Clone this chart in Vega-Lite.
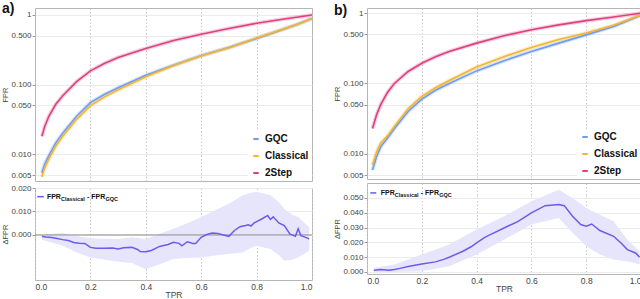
{
"$schema":"https://vega.github.io/schema/vega-lite/v6.json",
"padding":{"left":1,"top":1,"right":0,"bottom":0},
"config":{"font":"Liberation Sans","view":{"stroke":"#b5b5b5","strokeWidth":1},
"axis":{"domain":false,"labelColor":"#444","labelFontSize":8,"titleFontSize":7.5,"titleFontWeight":"normal","titleColor":"#444","gridColor":"#ebebeb","tickColor":"#999","tickSize":3,"labelPadding":1,"titlePadding":1,"labelOverlap":false},
"axisX":{"gridDash":[1.5,2],"gridColor":"#c8c8c8","labelFontSize":8.5,"titleFontSize":8.5},
"legend":{"labelFont":"Liberation Sans","labelFontWeight":"bold","labelFontSize":10,"labelColor":"#111","symbolType":"stroke","symbolSize":30,"symbolStrokeWidth":2,"symbolOpacity":1,"fillColor":"white","padding":3,"rowPadding":7,"offset":0,"title":null}},
"datasets":{
"roc":[
{"p":"a","m":"GQC","tpr":0.025,"fpr":0.0054},{"p":"a","m":"GQC","tpr":0.035,"fpr":0.0072},{"p":"a","m":"GQC","tpr":0.05,"fpr":0.0095},{"p":"a","m":"GQC","tpr":0.075,"fpr":0.0145},{"p":"a","m":"GQC","tpr":0.1,"fpr":0.02},{"p":"a","m":"GQC","tpr":0.15,"fpr":0.035},{"p":"a","m":"GQC","tpr":0.2,"fpr":0.055},{"p":"a","m":"GQC","tpr":0.25,"fpr":0.072},{"p":"a","m":"GQC","tpr":0.3,"fpr":0.09},{"p":"a","m":"GQC","tpr":0.4,"fpr":0.136},{"p":"a","m":"GQC","tpr":0.5,"fpr":0.19},{"p":"a","m":"GQC","tpr":0.6,"fpr":0.26},{"p":"a","m":"GQC","tpr":0.7,"fpr":0.34},{"p":"a","m":"GQC","tpr":0.8,"fpr":0.46},{"p":"a","m":"GQC","tpr":0.9,"fpr":0.63},{"p":"a","m":"GQC","tpr":0.95,"fpr":0.74},{"p":"a","m":"GQC","tpr":1.0,"fpr":0.89},
{"p":"a","m":"Classical","tpr":0.025,"fpr":0.0047},{"p":"a","m":"Classical","tpr":0.035,"fpr":0.0064},{"p":"a","m":"Classical","tpr":0.05,"fpr":0.0085},{"p":"a","m":"Classical","tpr":0.075,"fpr":0.013},{"p":"a","m":"Classical","tpr":0.1,"fpr":0.018},{"p":"a","m":"Classical","tpr":0.15,"fpr":0.0316},{"p":"a","m":"Classical","tpr":0.2,"fpr":0.0497},{"p":"a","m":"Classical","tpr":0.25,"fpr":0.066},{"p":"a","m":"Classical","tpr":0.3,"fpr":0.084},{"p":"a","m":"Classical","tpr":0.4,"fpr":0.129},{"p":"a","m":"Classical","tpr":0.5,"fpr":0.187},{"p":"a","m":"Classical","tpr":0.6,"fpr":0.259},{"p":"a","m":"Classical","tpr":0.7,"fpr":0.339},{"p":"a","m":"Classical","tpr":0.8,"fpr":0.466},{"p":"a","m":"Classical","tpr":0.9,"fpr":0.634},{"p":"a","m":"Classical","tpr":0.95,"fpr":0.74},{"p":"a","m":"Classical","tpr":1.0,"fpr":0.89},
{"p":"a","m":"2Step","tpr":0.025,"fpr":0.018},{"p":"a","m":"2Step","tpr":0.035,"fpr":0.025},{"p":"a","m":"2Step","tpr":0.05,"fpr":0.035},{"p":"a","m":"2Step","tpr":0.075,"fpr":0.052},{"p":"a","m":"2Step","tpr":0.1,"fpr":0.069},{"p":"a","m":"2Step","tpr":0.15,"fpr":0.11},{"p":"a","m":"2Step","tpr":0.2,"fpr":0.157},{"p":"a","m":"2Step","tpr":0.25,"fpr":0.2},{"p":"a","m":"2Step","tpr":0.3,"fpr":0.245},{"p":"a","m":"2Step","tpr":0.4,"fpr":0.33},{"p":"a","m":"2Step","tpr":0.5,"fpr":0.43},{"p":"a","m":"2Step","tpr":0.6,"fpr":0.53},{"p":"a","m":"2Step","tpr":0.7,"fpr":0.64},{"p":"a","m":"2Step","tpr":0.8,"fpr":0.76},{"p":"a","m":"2Step","tpr":0.9,"fpr":0.875},{"p":"a","m":"2Step","tpr":1.0,"fpr":1.0},
{"p":"b","m":"GQC","tpr":0.02,"fpr":0.0059},{"p":"b","m":"GQC","tpr":0.035,"fpr":0.0092},{"p":"b","m":"GQC","tpr":0.05,"fpr":0.0126},{"p":"b","m":"GQC","tpr":0.075,"fpr":0.0168},{"p":"b","m":"GQC","tpr":0.1,"fpr":0.023},{"p":"b","m":"GQC","tpr":0.15,"fpr":0.04},{"p":"b","m":"GQC","tpr":0.2,"fpr":0.06},{"p":"b","m":"GQC","tpr":0.25,"fpr":0.08},{"p":"b","m":"GQC","tpr":0.3,"fpr":0.1},{"p":"b","m":"GQC","tpr":0.4,"fpr":0.151},{"p":"b","m":"GQC","tpr":0.5,"fpr":0.21},{"p":"b","m":"GQC","tpr":0.6,"fpr":0.285},{"p":"b","m":"GQC","tpr":0.7,"fpr":0.374},{"p":"b","m":"GQC","tpr":0.8,"fpr":0.49},{"p":"b","m":"GQC","tpr":0.9,"fpr":0.645},{"p":"b","m":"GQC","tpr":1.0,"fpr":0.93},
{"p":"b","m":"Classical","tpr":0.02,"fpr":0.0069},{"p":"b","m":"Classical","tpr":0.035,"fpr":0.0107},{"p":"b","m":"Classical","tpr":0.05,"fpr":0.0142},{"p":"b","m":"Classical","tpr":0.075,"fpr":0.018},{"p":"b","m":"Classical","tpr":0.1,"fpr":0.0246},{"p":"b","m":"Classical","tpr":0.15,"fpr":0.0436},{"p":"b","m":"Classical","tpr":0.2,"fpr":0.0654},{"p":"b","m":"Classical","tpr":0.25,"fpr":0.087},{"p":"b","m":"Classical","tpr":0.3,"fpr":0.11},{"p":"b","m":"Classical","tpr":0.4,"fpr":0.171},{"p":"b","m":"Classical","tpr":0.5,"fpr":0.24},{"p":"b","m":"Classical","tpr":0.6,"fpr":0.325},{"p":"b","m":"Classical","tpr":0.7,"fpr":0.42},{"p":"b","m":"Classical","tpr":0.8,"fpr":0.521},{"p":"b","m":"Classical","tpr":0.9,"fpr":0.669},{"p":"b","m":"Classical","tpr":1.0,"fpr":0.94},
{"p":"b","m":"2Step","tpr":0.02,"fpr":0.023},{"p":"b","m":"2Step","tpr":0.035,"fpr":0.036},{"p":"b","m":"2Step","tpr":0.05,"fpr":0.05},{"p":"b","m":"2Step","tpr":0.075,"fpr":0.075},{"p":"b","m":"2Step","tpr":0.1,"fpr":0.1},{"p":"b","m":"2Step","tpr":0.15,"fpr":0.148},{"p":"b","m":"2Step","tpr":0.2,"fpr":0.194},{"p":"b","m":"2Step","tpr":0.25,"fpr":0.24},{"p":"b","m":"2Step","tpr":0.3,"fpr":0.285},{"p":"b","m":"2Step","tpr":0.4,"fpr":0.374},{"p":"b","m":"2Step","tpr":0.5,"fpr":0.476},{"p":"b","m":"2Step","tpr":0.6,"fpr":0.58},{"p":"b","m":"2Step","tpr":0.7,"fpr":0.68},{"p":"b","m":"2Step","tpr":0.8,"fpr":0.78},{"p":"b","m":"2Step","tpr":0.9,"fpr":0.877},{"p":"b","m":"2Step","tpr":1.0,"fpr":1.0}
],
"delta":[
{"p":"a","tpr":0.025,"d":-0.0007},{"p":"a","tpr":0.04,"d":-0.0009},{"p":"a","tpr":0.06,"d":-0.0011},{"p":"a","tpr":0.08,"d":-0.0015},{"p":"a","tpr":0.1,"d":-0.002},{"p":"a","tpr":0.12,"d":-0.0024},{"p":"a","tpr":0.14,"d":-0.0032},{"p":"a","tpr":0.16,"d":-0.0035},{"p":"a","tpr":0.18,"d":-0.0036},{"p":"a","tpr":0.2,"d":-0.0053},{"p":"a","tpr":0.22,"d":-0.0057},{"p":"a","tpr":0.25,"d":-0.0057},{"p":"a","tpr":0.28,"d":-0.0056},{"p":"a","tpr":0.3,"d":-0.006},{"p":"a","tpr":0.32,"d":-0.0055},{"p":"a","tpr":0.35,"d":-0.0053},{"p":"a","tpr":0.37,"d":-0.0062},{"p":"a","tpr":0.38,"d":-0.0071},{"p":"a","tpr":0.4,"d":-0.0072},{"p":"a","tpr":0.42,"d":-0.0066},{"p":"a","tpr":0.45,"d":-0.0049},{"p":"a","tpr":0.48,"d":-0.0041},{"p":"a","tpr":0.5,"d":-0.0031},{"p":"a","tpr":0.52,"d":-0.0036},{"p":"a","tpr":0.53,"d":-0.0046},{"p":"a","tpr":0.55,"d":-0.0029},{"p":"a","tpr":0.57,"d":-0.0036},{"p":"a","tpr":0.58,"d":-0.0036},{"p":"a","tpr":0.6,"d":-0.001},{"p":"a","tpr":0.62,"d":0.0002},{"p":"a","tpr":0.64,"d":0.0008},{"p":"a","tpr":0.66,"d":0.0006},{"p":"a","tpr":0.68,"d":0.0},{"p":"a","tpr":0.7,"d":-0.0006},{"p":"a","tpr":0.72,"d":0.0019},{"p":"a","tpr":0.74,"d":0.0035},{"p":"a","tpr":0.76,"d":0.004},{"p":"a","tpr":0.77,"d":0.0043},{"p":"a","tpr":0.78,"d":0.0038},{"p":"a","tpr":0.79,"d":0.005},{"p":"a","tpr":0.8,"d":0.0057},{"p":"a","tpr":0.82,"d":0.0069},{"p":"a","tpr":0.84,"d":0.0083},{"p":"a","tpr":0.85,"d":0.0066},{"p":"a","tpr":0.86,"d":0.0077},{"p":"a","tpr":0.88,"d":0.0051},{"p":"a","tpr":0.9,"d":0.004},{"p":"a","tpr":0.92,"d":0.0004},{"p":"a","tpr":0.94,"d":-0.0006},{"p":"a","tpr":0.95,"d":0.0026},{"p":"a","tpr":0.96,"d":-0.0003},{"p":"a","tpr":0.97,"d":-0.0007},{"p":"a","tpr":0.99,"d":-0.0017},
{"p":"b","tpr":0.025,"d":0.0011},{"p":"b","tpr":0.05,"d":0.0016},{"p":"b","tpr":0.08,"d":0.0011},{"p":"b","tpr":0.1,"d":0.0016},{"p":"b","tpr":0.12,"d":0.0024},{"p":"b","tpr":0.15,"d":0.0036},{"p":"b","tpr":0.2,"d":0.0054},{"p":"b","tpr":0.25,"d":0.0068},{"p":"b","tpr":0.28,"d":0.0085},{"p":"b","tpr":0.3,"d":0.0099},{"p":"b","tpr":0.35,"d":0.014},{"p":"b","tpr":0.38,"d":0.017},{"p":"b","tpr":0.4,"d":0.0196},{"p":"b","tpr":0.43,"d":0.0234},{"p":"b","tpr":0.45,"d":0.0252},{"p":"b","tpr":0.5,"d":0.0297},{"p":"b","tpr":0.55,"d":0.034},{"p":"b","tpr":0.6,"d":0.0399},{"p":"b","tpr":0.65,"d":0.0448},{"p":"b","tpr":0.68,"d":0.0452},{"p":"b","tpr":0.7,"d":0.0455},{"p":"b","tpr":0.72,"d":0.0448},{"p":"b","tpr":0.75,"d":0.0376},{"p":"b","tpr":0.78,"d":0.032},{"p":"b","tpr":0.8,"d":0.0309},{"p":"b","tpr":0.82,"d":0.0324},{"p":"b","tpr":0.85,"d":0.028},{"p":"b","tpr":0.9,"d":0.0241},{"p":"b","tpr":0.93,"d":0.019},{"p":"b","tpr":0.95,"d":0.0151},{"p":"b","tpr":0.98,"d":0.0128},{"p":"b","tpr":0.995,"d":0.01}
],
"band":[
{"p":"a","tpr":0.025,"lo":-0.002,"hi":0.0},{"p":"a","tpr":0.1,"lo":-0.0046,"hi":0.0008},{"p":"a","tpr":0.15,"lo":-0.0075,"hi":-0.0005},{"p":"a","tpr":0.2,"lo":-0.0096,"hi":-0.0014},{"p":"a","tpr":0.3,"lo":-0.0114,"hi":-0.0017},{"p":"a","tpr":0.35,"lo":-0.012,"hi":-0.001},{"p":"a","tpr":0.4,"lo":-0.0146,"hi":-0.0017},{"p":"a","tpr":0.45,"lo":-0.0125,"hi":0.0005},{"p":"a","tpr":0.5,"lo":-0.0103,"hi":0.0026},{"p":"a","tpr":0.55,"lo":-0.0098,"hi":0.005},{"p":"a","tpr":0.6,"lo":-0.0096,"hi":0.0076},{"p":"a","tpr":0.65,"lo":-0.0088,"hi":0.0105},{"p":"a","tpr":0.7,"lo":-0.0081,"hi":0.0133},{"p":"a","tpr":0.75,"lo":-0.0075,"hi":0.0169},{"p":"a","tpr":0.78,"lo":-0.0055,"hi":0.018},{"p":"a","tpr":0.8,"lo":-0.0046,"hi":0.0183},{"p":"a","tpr":0.83,"lo":-0.0055,"hi":0.0175},{"p":"a","tpr":0.85,"lo":-0.006,"hi":0.0169},{"p":"a","tpr":0.88,"lo":-0.0085,"hi":0.014},{"p":"a","tpr":0.9,"lo":-0.011,"hi":0.0111},{"p":"a","tpr":0.93,"lo":-0.0105,"hi":0.0085},{"p":"a","tpr":0.95,"lo":-0.0096,"hi":0.0076},{"p":"a","tpr":0.99,"lo":-0.0067,"hi":0.0033},
{"p":"b","tpr":0.025,"lo":0.0,"hi":0.0027},{"p":"b","tpr":0.1,"lo":0.0,"hi":0.005},{"p":"b","tpr":0.2,"lo":0.0005,"hi":0.0117},{"p":"b","tpr":0.3,"lo":0.0038,"hi":0.0185},{"p":"b","tpr":0.4,"lo":0.0117,"hi":0.0286},{"p":"b","tpr":0.5,"lo":0.0218,"hi":0.0376},{"p":"b","tpr":0.6,"lo":0.032,"hi":0.0477},{"p":"b","tpr":0.7,"lo":0.0365,"hi":0.0556},{"p":"b","tpr":0.75,"lo":0.0264,"hi":0.05},{"p":"b","tpr":0.8,"lo":0.0173,"hi":0.0432},{"p":"b","tpr":0.85,"lo":0.0117,"hi":0.0387},{"p":"b","tpr":0.9,"lo":0.0083,"hi":0.0342},{"p":"b","tpr":0.95,"lo":0.0072,"hi":0.0218},{"p":"b","tpr":0.995,"lo":0.005,"hi":0.014}
]
},
"resolve":{"scale":{"color":"independent"},"legend":{"color":"independent"}},
"spacing":12,
"hconcat":[
{"spacing":-3,
"resolve":{"scale":{"color":"independent","y":"independent"},"legend":{"color":"independent"}},
"vconcat":[
{"width":277,"height":173,
"title":{"text":"a)","anchor":"start","frame":"bounds","fontSize":14,"fontWeight":"bold","font":"Liberation Sans","color":"#111","offset":-9},
"data":{"name":"roc"},"transform":[{"filter":"datum.p=='a'"}],
"encoding":{
"x":{"field":"tpr","type":"quantitative","scale":{"domain":[0,1],"nice":false},"axis":{"labels":false,"ticks":false,"title":null,"values":[0.2,0.4,0.6,0.8]}},
"y":{"field":"fpr","type":"quantitative","scale":{"type":"log","domain":[0.0041,1.26],"nice":false},"axis":{"values":[0.005,0.01,0.05,0.1,0.5,1],"labelExpr":"datum.value==1?'1':format(datum.value,'.3f')","title":"FPR","labelOverlap":false}},
"color":{"field":"m","type":"nominal","scale":{"domain":["GQC","Classical","2Step"],"range":["#6f9df2","#f5b52e","#e0407e"]},"legend":{"orient":"bottom-right"}}},
"layer":[{"mark":{"type":"line","strokeWidth":4,"opacity":0.25}},{"mark":{"type":"line","strokeWidth":1.6}}]},
{"width":277,"height":92,
"encoding":{
"x":{"type":"quantitative","scale":{"domain":[0,1],"nice":false},"axis":{"values":[0,0.2,0.4,0.6,0.8,1],"format":".1f","title":"TPR","ticks":false,"labelPadding":2,"titlePadding":0}},
"y":{"type":"quantitative","scale":{"domain":[-0.0192,0.02],"nice":false,"zero":false},"axis":{"values":[0,0.01,0.02],"format":".3f","title":"ΔFPR","labelOverlap":false,"labelBound":false,"grid":true}}},
"layer":[
{"data":{"name":"band"},"transform":[{"filter":"datum.p=='a'"}],"mark":{"type":"area","color":"#e7e5fb"},
"encoding":{"x":{"field":"tpr"},"y":{"field":"lo"},"y2":{"field":"hi"}}},
{"data":{"values":[{"zero":0}]},"mark":{"type":"rule","color":"#8c8c8c","strokeWidth":1},"encoding":{"y":{"field":"zero"}}},
{"data":{"name":"delta"},"transform":[{"filter":"datum.p=='a'"}],"mark":{"type":"line","color":"#6b5bea","strokeWidth":1.5},
"encoding":{"x":{"field":"tpr"},"y":{"field":"d"}}},
{"data":{"values":[{}]},"mark":{"type":"rule","color":"#6b5bea","strokeWidth":1.5},"encoding":{"x":{"datum":0.008},"x2":{"datum":0.032},"y":{"datum":0.0163}}},
{"data":{"values":[{}]},"mark":{"type":"text","text":"FPR","align":"left","baseline":"middle","fontSize":7,"fontWeight":"bold","color":"#111"},"encoding":{"x":{"datum":0.043},"y":{"datum":0.0163}}},
{"data":{"values":[{}]},"mark":{"type":"text","text":"Classical","align":"left","baseline":"middle","fontSize":5.5,"fontWeight":"bold","color":"#111","dx":14,"dy":2},"encoding":{"x":{"datum":0.043},"y":{"datum":0.0163}}},
{"data":{"values":[{}]},"mark":{"type":"text","text":"- FPR","align":"left","baseline":"middle","fontSize":7,"fontWeight":"bold","color":"#111","dx":40},"encoding":{"x":{"datum":0.043},"y":{"datum":0.0163}}},
{"data":{"values":[{}]},"mark":{"type":"text","text":"GQC","align":"left","baseline":"middle","fontSize":5.5,"fontWeight":"bold","color":"#111","dx":58.5,"dy":2},"encoding":{"x":{"datum":0.043},"y":{"datum":0.0163}}}
]}
]},
{"spacing":4,"bounds":"flush",
"resolve":{"scale":{"color":"independent","y":"independent"},"legend":{"color":"independent"}},
"vconcat":[
{"width":274,"height":171,
"title":{"text":"b)","anchor":"start","frame":"bounds","fontSize":14,"fontWeight":"bold","font":"Liberation Sans","color":"#111","offset":-13},
"data":{"name":"roc"},"transform":[{"filter":"datum.p=='b'"}],
"encoding":{
"x":{"field":"tpr","type":"quantitative","scale":{"domain":[0,1],"nice":false},"axis":{"labels":false,"ticks":false,"title":null,"values":[0.2,0.4,0.6,0.8]}},
"y":{"field":"fpr","type":"quantitative","scale":{"type":"log","domain":[0.0044,1.18],"nice":false},"axis":{"values":[0.005,0.01,0.05,0.1,0.5,1],"labelExpr":"datum.value==1?'1':format(datum.value,'.3f')","title":"FPR","labelOverlap":false}},
"color":{"field":"m","type":"nominal","scale":{"domain":["GQC","Classical","2Step"],"range":["#6f9df2","#f5b52e","#e0407e"]},"legend":{"orient":"bottom-right"}}},
"layer":[{"mark":{"type":"line","strokeWidth":4,"opacity":0.25}},{"mark":{"type":"line","strokeWidth":1.6}}]},
{"width":274,"height":91,
"encoding":{
"x":{"type":"quantitative","scale":{"domain":[0,1],"nice":false},"axis":{"values":[0,0.2,0.4,0.6,0.8,1],"format":".1f","title":"TPR","ticks":false,"labelPadding":2,"titlePadding":0}},
"y":{"type":"quantitative","scale":{"domain":[-0.0014,0.0601],"nice":false,"zero":false},"axis":{"values":[0,0.01,0.02,0.03,0.04,0.05],"format":".3f","title":"ΔFPR","labelOverlap":false,"labelBound":false,"grid":true}}},
"layer":[
{"data":{"name":"band"},"transform":[{"filter":"datum.p=='b'"}],"mark":{"type":"area","color":"#e7e5fb"},
"encoding":{"x":{"field":"tpr"},"y":{"field":"lo"},"y2":{"field":"hi"}}},
{"data":{"name":"delta"},"transform":[{"filter":"datum.p=='b'"}],"mark":{"type":"line","color":"#6b5bea","strokeWidth":1.5},
"encoding":{"x":{"field":"tpr"},"y":{"field":"d"}}},
{"data":{"values":[{}]},"mark":{"type":"rule","color":"#6b5bea","strokeWidth":1.5},"encoding":{"x":{"datum":0.012},"x2":{"datum":0.034},"y":{"datum":0.0534}}},
{"data":{"values":[{}]},"mark":{"type":"text","text":"FPR","align":"left","baseline":"middle","fontSize":7,"fontWeight":"bold","color":"#111"},"encoding":{"x":{"datum":0.05},"y":{"datum":0.0534}}},
{"data":{"values":[{}]},"mark":{"type":"text","text":"Classical","align":"left","baseline":"middle","fontSize":5.5,"fontWeight":"bold","color":"#111","dx":14,"dy":2},"encoding":{"x":{"datum":0.05},"y":{"datum":0.0534}}},
{"data":{"values":[{}]},"mark":{"type":"text","text":"- FPR","align":"left","baseline":"middle","fontSize":7,"fontWeight":"bold","color":"#111","dx":40},"encoding":{"x":{"datum":0.05},"y":{"datum":0.0534}}},
{"data":{"values":[{}]},"mark":{"type":"text","text":"GQC","align":"left","baseline":"middle","fontSize":5.5,"fontWeight":"bold","color":"#111","dx":58.5,"dy":2},"encoding":{"x":{"datum":0.05},"y":{"datum":0.0534}}}
]}
]}
]
}
